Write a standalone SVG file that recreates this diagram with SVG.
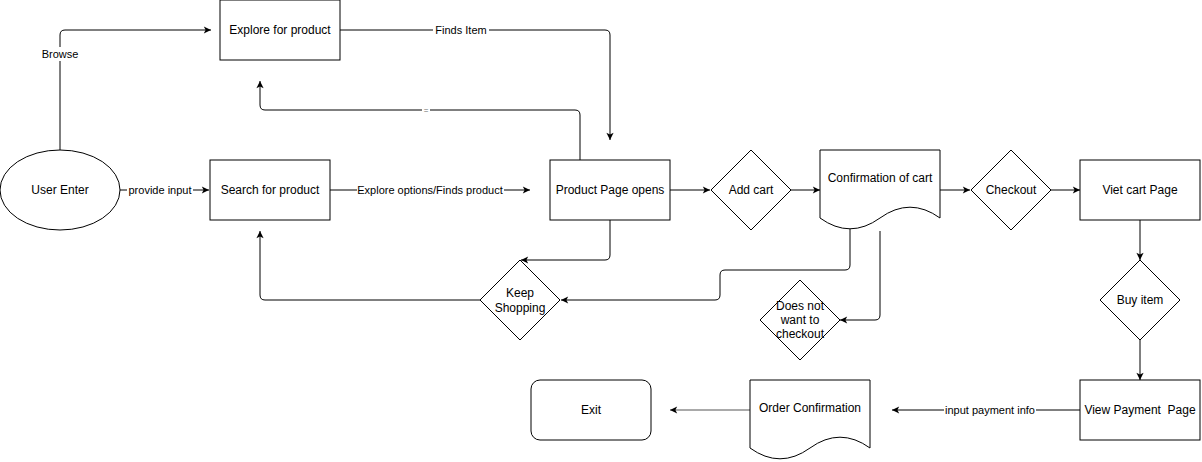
<svg xmlns="http://www.w3.org/2000/svg" width="1202" height="462" viewBox="0 0 1202 462">
<defs>
<style>
.n{fill:#fff;stroke:#000;stroke-width:1}
.t{font-family:"Liberation Sans",Arial,sans-serif;font-size:12px;fill:#000;text-anchor:middle;dominant-baseline:central}
.e{fill:none;stroke:#000;stroke-width:1}
.l{font-family:"Liberation Sans",Arial,sans-serif;font-size:11px;fill:#000;text-anchor:middle;dominant-baseline:central}
.lb{fill:#fff}
</style>
<marker id="a" viewBox="0 0 10 10" refX="9" refY="5" markerWidth="9" markerHeight="9" markerUnits="userSpaceOnUse" orient="auto">
<path d="M1,1 L9,5 L1,9 L3,5 z" fill="#000"/>
</marker>
</defs>
<rect width="1202" height="462" fill="#fff"/>
<g id="connectors">
<path class="e" d="M60,150 L60,35 Q60,30 65,30 L211,30" marker-end="url(#a)"/>
<path class="e" d="M340,30 L605,30 Q610,30 610,35 L610,140" marker-end="url(#a)"/>
<path class="e" d="M580,160 L580,115 Q580,110 575,110 L265,110 Q260,110 260,105 L260,81" marker-end="url(#a)"/>
<path class="e" d="M120,190 L209,190" marker-end="url(#a)"/>
<path class="e" d="M330,190 L530,190" marker-end="url(#a)"/>
<path class="e" d="M610,220 L610,255 Q610,260 605,260 L521,260" marker-end="url(#a)"/>
<path class="e" d="M480,300 L265,300 Q260,300 260,295 L260,231" marker-end="url(#a)"/>
<path class="e" d="M670,190 L710,190" marker-end="url(#a)"/>
<path class="e" d="M791,190 L820,190" marker-end="url(#a)"/>
<path class="e" d="M850,229 L850,265 Q850,270 845,270 L725,270 Q720,270 720,275 L720,295 Q720,300 715,300 L561,300" marker-end="url(#a)"/>
<path class="e" d="M880,231 L880,315 Q880,320 875,320 L840,320" marker-end="url(#a)"/>
<path class="e" d="M940,190 L970,190" marker-end="url(#a)"/>
<path class="e" d="M1051,190 L1080,190" marker-end="url(#a)"/>
<path class="e" d="M1140,220 L1140,260" marker-end="url(#a)"/>
<path class="e" d="M1140,340 L1140,380" marker-end="url(#a)"/>
<path class="e" d="M1080,410 L892,410" marker-end="url(#a)"/>
<path class="e" d="M750,410 L670,410" style="stroke:#555" marker-end="url(#a)"/>
<rect class="lb" x="39" y="47" width="42" height="14"/>
<text class="l" x="60" y="54">Browse</text>
<rect class="lb" x="433" y="23" width="56" height="14"/>
<text class="l" x="461" y="30">Finds Item</text>
<rect class="lb" x="422" y="105" width="8" height="10"/>
<text class="l" x="426" y="110" style="font-size:8px;fill:#666">=</text>
<rect class="lb" x="127" y="183" width="66" height="14"/>
<text class="l" x="160" y="190">provide input</text>
<rect class="lb" x="357" y="183" width="147" height="14"/>
<text class="l" x="430" y="190">Explore options/Finds product</text>
<rect class="lb" x="944" y="403" width="92" height="14"/>
<text class="l" x="990" y="410">input payment info</text>
</g>
<g id="explore"><rect class="n" x="220" y="0" width="120" height="60"/><text class="t" x="280" y="30">Explore for product</text></g>
<g id="user-enter"><ellipse class="n" cx="60" cy="190" rx="60" ry="40"/><text class="t" x="60" y="190">User Enter</text></g>
<g id="search"><rect class="n" x="210" y="160" width="120" height="60"/><text class="t" x="270" y="190">Search for product</text></g>
<g id="product-page"><rect class="n" x="550" y="160" width="120" height="60"/><text class="t" x="610" y="190">Product Page opens</text></g>
<g id="add-cart"><path class="n" d="M751,150 L791,190 L751,230 L711,190 Z"/><text class="t" x="751" y="190">Add cart</text></g>
<g id="confirm-cart"><path class="n" d="M820,150 L940,150 L940,218 Q910,196.4 880,218 Q850,239.6 820,218 Z"/><text class="t" x="880" y="178">Confirmation of cart</text></g>
<g id="checkout"><path class="n" d="M1011,150 L1051,190 L1011,230 L971,190 Z"/><text class="t" x="1011" y="190">Checkout</text></g>
<g id="viet-cart"><rect class="n" x="1080" y="160" width="120" height="60"/><text class="t" x="1140" y="190">Viet cart Page</text></g>
<g id="buy-item"><path class="n" d="M1140,260 L1180,300 L1140,340 L1100,300 Z"/><text class="t" x="1140" y="300">Buy item</text></g>
<g id="keep-shopping"><path class="n" d="M520,260 L560,300 L520,340 L480,300 Z"/><text class="t" x="520" y="293">Keep</text><text class="t" x="520" y="308">Shopping</text></g>
<g id="no-checkout"><path class="n" d="M800,280 L840,320 L800,360 L760,320 Z"/><text class="t" x="800" y="306">Does not</text><text class="t" x="800" y="320">want to</text><text class="t" x="800" y="334">checkout</text></g>
<g id="view-payment"><rect class="n" x="1080" y="380" width="120" height="60"/><text class="t" x="1140" y="410" style="white-space:pre" xml:space="preserve">View Payment  Page</text></g>
<g id="order-confirm"><path class="n" d="M750,380 L870,380 L870,448 Q840,426.4 810,448 Q780,469.6 750,448 Z"/><text class="t" x="810" y="408">Order Confirmation</text></g>
<g id="exit"><rect class="n" x="531" y="380" width="120" height="60" rx="9" ry="9"/><text class="t" x="591" y="410">Exit</text></g>
</svg>
